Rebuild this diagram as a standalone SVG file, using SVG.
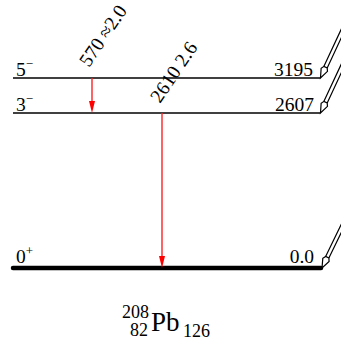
<svg xmlns="http://www.w3.org/2000/svg" width="341" height="345" viewBox="0 0 341 345">
<style>
text{font-family:"Liberation Serif","Times New Roman",serif;fill:#000}
.t{font-size:19.5px}
.lvl{stroke:#000;stroke-width:1.3;fill:none}
.gnd{stroke:#000;stroke-width:4.5;stroke-linecap:round;fill:none}
.g{stroke:#f22;stroke-width:1.4;fill:none}
.hd{fill:#f00;stroke:none}
.fa{fill:#fff;stroke:#000;stroke-width:1.2}
.fs{stroke:#000;stroke-width:1.2;fill:none}
</style>
<defs>
<g id="feed">
<path class="fa" d="M0,0 L9,-3.5 L12,-1.8 L12,1.8 L9,3.5 Z"/>
<path class="fs" d="M12,-1.8 L70,-1.8 M12,1.8 L70,1.8"/>
</g>
</defs>
<g id="level-5minus">
<line class="lvl" x1="13" y1="78" x2="320" y2="78"/>
<text class="t" x="16" y="76">5<tspan font-size="13" dy="-8">−</tspan></text>
<text class="t" x="313" y="76" text-anchor="end">3195</text>
<use href="#feed" transform="translate(320.5,78) rotate(-65)"/>
</g>
<g id="level-3minus">
<line class="lvl" x1="13" y1="113" x2="320" y2="113"/>
<text class="t" x="16" y="111">3<tspan font-size="13" dy="-8">−</tspan></text>
<text class="t" x="314" y="111" text-anchor="end">2607</text>
<use href="#feed" transform="translate(320.5,113) rotate(-65)"/>
</g>
<g id="level-0plus">
<line class="gnd" x1="13" y1="268" x2="321" y2="268"/>
<text class="t" x="16" y="263">0<tspan font-size="13" dy="-8">+</tspan></text>
<text class="t" x="314" y="263" text-anchor="end">0.0</text>
<use href="#feed" transform="translate(322,268) rotate(-64)"/>
</g>
<g id="connectors">
<g id="g570">
<line class="g" x1="92" y1="78" x2="92" y2="102"/>
<path class="hd" d="M89,101 L95,101 L92,113 Z"/>
<text class="t" transform="translate(89,68) rotate(-56)">570 ≈2.0</text>
</g>
<g id="g2610">
<line class="g" x1="162" y1="113" x2="162" y2="258"/>
<path class="hd" d="M159,256 L165,256 L162,268 Z"/>
<text class="t" transform="translate(160,104) rotate(-56)">2610 2.6</text>
</g>
</g>
<g id="nucleus">
<text x="122" y="318" font-size="18">208</text>
<text x="130" y="336" font-size="18">82</text>
<text x="151" y="331" font-size="27">Pb</text>
<text x="183" y="337" font-size="18">126</text>
</g>
</svg>
